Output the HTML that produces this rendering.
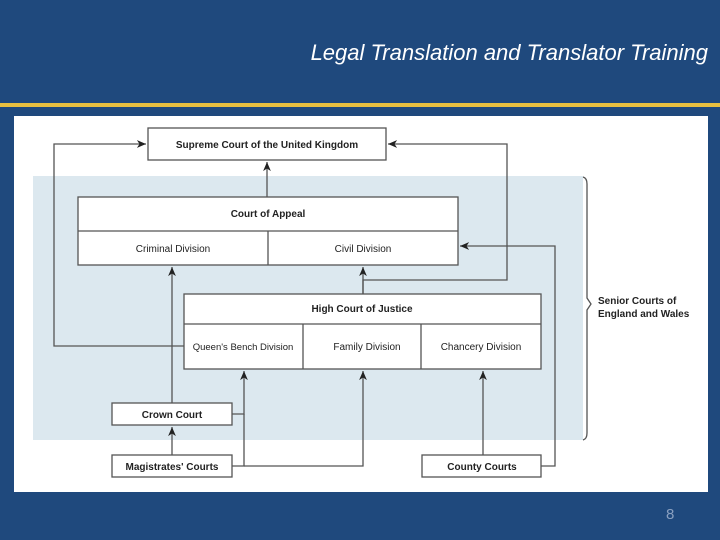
<!DOCTYPE html>
<html><head><style>
body{margin:0;width:720px;height:540px;background:#1f497d;overflow:hidden;position:relative;font-family:"Liberation Sans",sans-serif}
.t{position:absolute;right:12px;top:40px;color:#fff;font-style:italic;font-size:22px;font-family:"Liberation Sans",sans-serif}
.g{position:absolute;left:0;top:103px;width:720px;height:4px;background:#e8c040}
.p{position:absolute;left:14px;top:116px;width:694px;height:376px;background:#fff}
.n{position:absolute;left:666px;top:506px;color:#8aa0c0;font-size:15px}
</style></head><body>
<div class="t">Legal Translation and Translator Training</div>
<div class="g"></div>
<div class="p"></div>
<svg width="720" height="540" style="position:absolute;left:0;top:0" font-family="Liberation Sans, sans-serif">
<defs><marker id="a" markerWidth="8" markerHeight="8" refX="7" refY="4" orient="auto"><path d="M0,1 L7,4 L0,7 L2,4 z" fill="#222"/></marker></defs>
<rect x="33" y="176" width="550" height="264" fill="#dce8ef"/>
<g stroke="#555" stroke-width="1.3" fill="none">
<polyline points="184,346 54,346 54,144 146,144" marker-end="url(#a)"/>
<polyline points="363,294 363,280 507,280 507,144 388,144" marker-end="url(#a)"/>
<line x1="267" y1="197" x2="267" y2="162" marker-end="url(#a)"/>
<line x1="363" y1="294" x2="363" y2="267" marker-end="url(#a)"/>
<polyline points="541,466 555,466 555,246 460,246" marker-end="url(#a)"/>
<line x1="172" y1="403" x2="172" y2="267" marker-end="url(#a)"/>
<polyline points="232,414 244,414 244,371" marker-end="url(#a)"/>
<polyline points="232,466 244,466 244,414"/>
<polyline points="244,466 363,466 363,371" marker-end="url(#a)"/>
<line x1="172" y1="455" x2="172" y2="427" marker-end="url(#a)"/>
<line x1="483" y1="455" x2="483" y2="371" marker-end="url(#a)"/>
<path d="M583,177 Q587,178 587,184 L587,298 L591,304 L587,310 L587,433 Q587,439 583,440"/>
</g>
<g stroke="#555" stroke-width="1.3" fill="#fff">
<rect x="148" y="128" width="238" height="32"/>
<rect x="78" y="197" width="380" height="68"/>
<line x1="78" y1="231" x2="458" y2="231"/><line x1="268" y1="231" x2="268" y2="265"/>
<rect x="184" y="294" width="357" height="75"/>
<line x1="184" y1="324" x2="541" y2="324"/><line x1="303" y1="324" x2="303" y2="369"/><line x1="421" y1="324" x2="421" y2="369"/>
<rect x="112" y="403" width="120" height="22"/>
<rect x="112" y="455" width="120" height="22"/>
<rect x="422" y="455" width="119" height="22"/>
</g>
<g font-size="10" fill="#222" text-anchor="middle">
<text x="267" y="148" font-weight="bold">Supreme Court of the United Kingdom</text>
<text x="268" y="217" font-weight="bold">Court of Appeal</text>
<text x="173" y="252">Criminal Division</text>
<text x="363" y="252">Civil Division</text>
<text x="362" y="312" font-weight="bold">High Court of Justice</text>
<text x="243" y="350" font-size="9.5">Queen's Bench Division</text>
<text x="367" y="350">Family Division</text>
<text x="481" y="350">Chancery Division</text>
<text x="172" y="418" font-weight="bold">Crown Court</text>
<text x="172" y="470" font-weight="bold">Magistrates' Courts</text>
<text x="482" y="470" font-weight="bold">County Courts</text>
<text x="598" y="304" text-anchor="start" font-weight="bold">Senior Courts of</text>
<text x="598" y="317" text-anchor="start" font-weight="bold">England and Wales</text>
</g>
</svg>
<div class="n">8</div>
</body></html>
